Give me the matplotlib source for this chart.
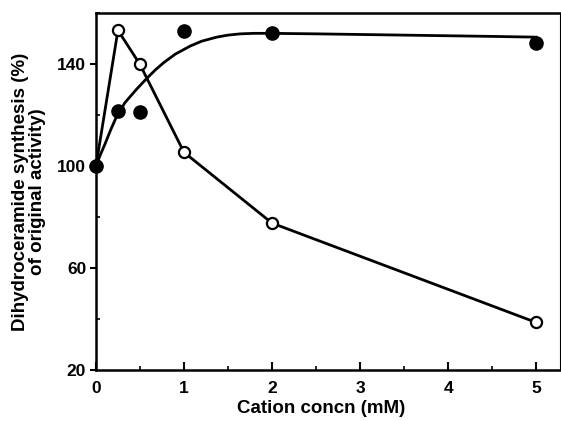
import numpy as np
import matplotlib.pyplot as plt
from matplotlib.ticker import MultipleLocator

# data
conc = [0, 0.25, 0.5, 1, 2, 5]
open_vals = [100, 153.4, 140, 105.5, 77.7, 38.7]      # open circles
filled_vals = [100, 121.6, 121.2, 153.1, 152.2, 148.5]  # filled circles

# fitted curve through the filled circles
curve_x = [0, 0.05, 0.1, 0.17, 0.235, 0.33, 0.46, 0.58, 0.68, 0.77, 0.9, 1.07, 1.2,
           1.37, 1.5, 1.64, 1.8, 1.98, 2.5, 3.5, 4.5, 5]
curve_y = [100, 104.5, 108.5, 114.5, 119.6, 125.0, 130.2, 134.6, 138.0, 140.7, 144.0,
           147.2, 149.1, 150.7, 151.5, 152.0, 152.2, 152.2, 152.0, 151.5, 151.0, 150.7]

xticks = [0, 1, 2, 3, 4, 5]
yticks = [20, 60, 100, 140]

plt.rcParams['font.family'] = ['Liberation Sans', 'DejaVu Sans']
plt.rcParams['font.weight'] = 'bold'
plt.rcParams['axes.labelweight'] = 'bold'

fig = plt.figure(figsize=(5.61, 4.21), dpi=100)
ax = fig.add_axes([0.171, 0.121, 0.827, 0.847])

ax.plot(curve_x, curve_y, color='black', lw=2, zorder=2)
ax.plot(conc, open_vals, color='black', lw=2, marker='o', ms=8,
        mfc='white', mec='black', mew=1.6, zorder=3, clip_on=False)
ax.plot(conc, filled_vals, ls='none', marker='o', ms=9.5, color='black',
        zorder=4, clip_on=False)

ax.set_xlim(0, 5.27)
ax.set_ylim(20, 160)
ax.set_xticks(xticks, labels=[str(v) for v in xticks], fontweight='bold', fontsize=12.5)
ax.set_yticks(yticks, labels=[str(v) for v in yticks], fontweight='bold', fontsize=12.5)
ax.xaxis.set_minor_locator(MultipleLocator(0.5))
ax.yaxis.set_minor_locator(MultipleLocator(20))

ax.tick_params(axis='x', which='major', direction='in', length=6, width=1.5, pad=8)
ax.tick_params(axis='x', which='minor', direction='in', length=3, width=1.2)
ax.tick_params(axis='y', which='major', direction='out', length=4, width=1.5, pad=3)
ax.tick_params(axis='y', which='minor', direction='in', length=3, width=1.2)

for s in ax.spines.values():
    s.set_linewidth(1.8)
ax.spines['right'].set_linewidth(0.8)

ax.set_xlabel('Cation concn (mM)', fontsize=13.5, fontweight='bold', labelpad=4)
ax.xaxis.set_label_coords(0.485, -0.085)
ax.set_ylabel('Dihydroceramide synthesis (%)\nof original activity)', fontsize=13.5,
              fontweight='bold', labelpad=8, linespacing=1.0)

fig.savefig('out.png', dpi=100)
